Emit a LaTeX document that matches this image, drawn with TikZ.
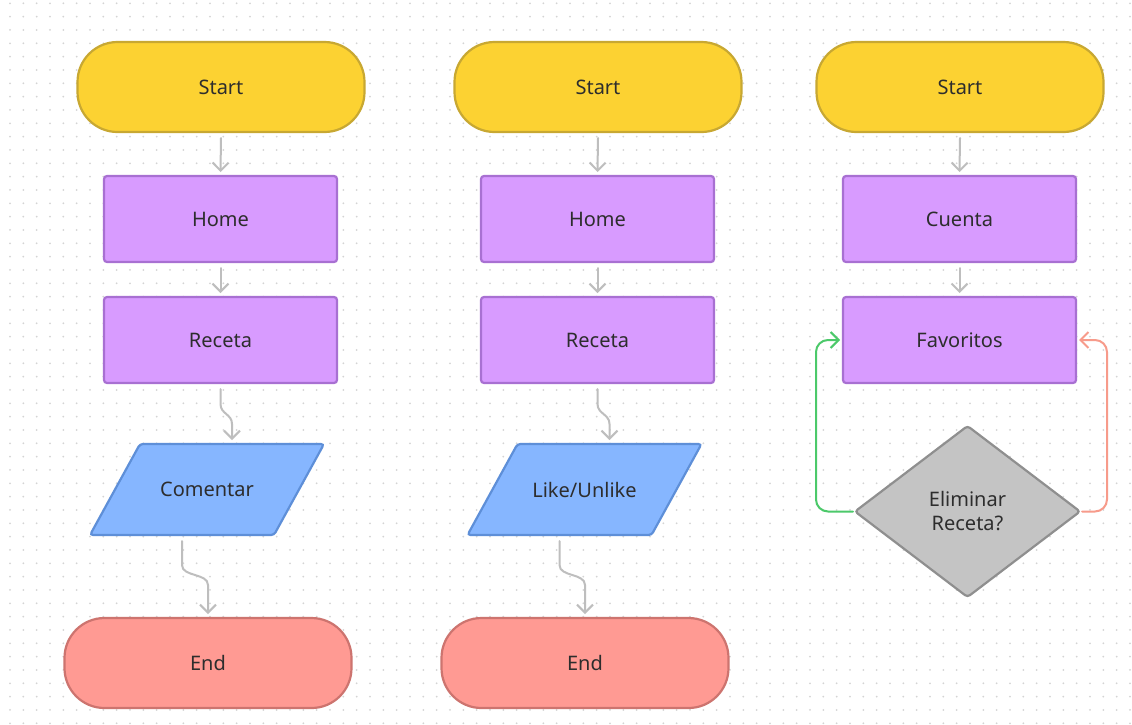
\documentclass[tikz,border=0pt]{standalone}
\usepackage{fontspec}
\setmainfont{Noto Sans}
\usetikzlibrary{shapes.geometric,arrows.meta,calc}
\definecolor{startF}{RGB}{252,210,50}
\definecolor{startB}{RGB}{200,168,50}
\definecolor{procF}{RGB}{216,155,255}
\definecolor{procB}{RGB}{168,112,210}
\definecolor{ioF}{RGB}{134,182,255}
\definecolor{ioB}{RGB}{94,143,216}
\definecolor{endF}{RGB}{255,154,147}
\definecolor{endB}{RGB}{205,116,111}
\definecolor{decF}{RGB}{196,196,196}
\definecolor{decB}{RGB}{143,143,143}
\definecolor{txt}{RGB}{45,45,45}
\definecolor{arrowC}{RGB}{190,190,190}
\definecolor{yesC}{RGB}{76,201,106}
\definecolor{noC}{RGB}{247,155,139}
\definecolor{dotC}{RGB}{212,212,212}
\tikzset{
  base/.style={line width=2.2pt, text=txt, font=\fontsize{20}{24}\selectfont, align=center, inner sep=0pt, outer sep=0pt},
  startbox/.style={base, draw=startB, fill=startF, rounded corners=40pt, minimum width=287pt, minimum height=90pt},
  endbox/.style={base, draw=endB, fill=endF, rounded corners=40pt, minimum width=287pt, minimum height=90pt},
  procbox/.style={base, draw=procB, fill=procF, rounded corners=3pt, minimum width=233pt, minimum height=86pt},
  iotext/.style={base, minimum width=184pt, minimum height=91pt},
  ioshape/.style={draw=ioB, fill=ioF, line width=2.2pt, rounded corners=3pt},
  decbox/.style={base, draw=decB, fill=decF, diamond, aspect=1.316, rounded corners=3pt, minimum width=225pt, minimum height=171pt},
  flow/.style={draw=arrowC, line width=2pt, line cap=round, -{Straight Barb[length=8pt,width=16pt,line width=2pt]}},
  yesflow/.style={flow, draw=yesC, rounded corners=12pt},
  noflow/.style={flow, draw=noC, rounded corners=12pt},
}
\begin{document}
\begin{tikzpicture}[x=1pt,y=-1pt]
\useasboundingbox (0,0) rectangle (1132,724);
\fill[white] (0,0) rectangle (1132,724);
\foreach \i in {0,...,84} {
  \foreach \j in {0,...,54} {
    \fill[dotC] ({10+13.333*\i},{3.3+13.333*\j}) circle (1pt);
  }
}
% column 1
\node[startbox] (s1) at (221,87) {Start};
\node[procbox] (h1) at (220.5,219) {Home};
\node[procbox] (r1) at (220.5,340) {Receta};
\coordinate (c1p) at (207,489.5);
\draw[ioshape] ($(c1p)+(-67,-45.5)$) -- ($(c1p)+(117,-45.5)$) -- ($(c1p)+(67,45.5)$) -- ($(c1p)+(-117,45.5)$) -- cycle;
\node[iotext] (c1) at (c1p) {Comentar};
\node[endbox] (e1) at (208,663) {End};
\draw[flow] ($(s1.south)+(0,6)$) -- ($(h1.north)+(0,-4)$);
\draw[flow] ($(h1.south)+(0,6)$) -- ($(r1.north)+(0,-4)$);
\draw[flow] ($(r1.south)+(0,6)$) -- ++(0,15) .. controls +(0,10) and +(0,-10) .. ($(c1.north)+(25,-20)$) -- ($(c1.north)+(25,-4)$);
\draw[flow] ($(c1.south)+(-25,6)$) -- ++(0,24) .. controls +(0,12) and +(0,-12) .. ($(e1.north)+(0,-33)$) -- ($(e1.north)+(0,-4)$);
% column 2
\node[startbox] (s2) at (598,87) {Start};
\node[procbox] (h2) at (597.5,219) {Home};
\node[procbox] (r2) at (597.5,340) {Receta};
\coordinate (c2p) at (584.5,489.5);
\draw[ioshape] ($(c2p)+(-67,-45.5)$) -- ($(c2p)+(117,-45.5)$) -- ($(c2p)+(67,45.5)$) -- ($(c2p)+(-117,45.5)$) -- cycle;
\node[iotext] (c2) at (c2p) {Like/Unlike};
\node[endbox] (e2) at (585,663) {End};
\draw[flow] ($(s2.south)+(0,6)$) -- ($(h2.north)+(0,-4)$);
\draw[flow] ($(h2.south)+(0,6)$) -- ($(r2.north)+(0,-4)$);
\draw[flow] ($(r2.south)+(0,6)$) -- ++(0,15) .. controls +(0,10) and +(0,-10) .. ($(c2.north)+(25,-20)$) -- ($(c2.north)+(25,-4)$);
\draw[flow] ($(c2.south)+(-25,6)$) -- ++(0,24) .. controls +(0,12) and +(0,-12) .. ($(e2.north)+(0,-33)$) -- ($(e2.north)+(0,-4)$);
% column 3
\node[startbox] (s3) at (960,87) {Start};
\node[procbox] (h3) at (959.5,219) {Cuenta};
\node[procbox] (r3) at (959.5,340) {Favoritos};
\node[decbox] (d3) at (967.5,511.5) {Eliminar\\Receta?};
\draw[flow] ($(s3.south)+(0,6)$) -- ($(h3.north)+(0,-4)$);
\draw[flow] ($(h3.south)+(0,6)$) -- ($(r3.north)+(0,-4)$);
\coordinate (gl) at (816,511.5);
\coordinate (rl) at (1107,511.5);
\draw[yesflow] ($(d3.west)+(-2,0)$) -- (gl) -- (gl |- r3.west) -- ($(r3.west)+(-3,0)$);
\draw[noflow] ($(d3.east)+(2,0)$) -- (rl) -- (rl |- r3.east) -- ($(r3.east)+(3,0)$);
\end{tikzpicture}
\end{document}
